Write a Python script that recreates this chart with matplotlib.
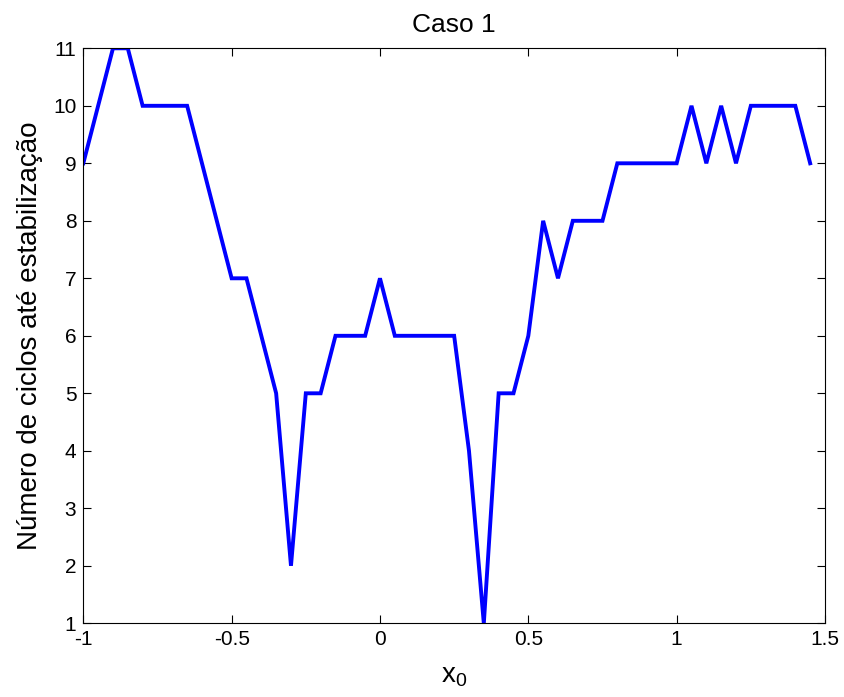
import numpy as np
import matplotlib
matplotlib.use("Agg")
import matplotlib.pyplot as plt

x_start = -1.0
x_step = 0.05
ciclos = [9, 10, 11, 11, 10, 10, 10, 10, 9, 8,
          7, 7, 6, 5, 2, 5, 5, 6, 6, 6,
          7, 6, 6, 6, 6, 6, 4, 1, 5, 5,
          6, 8, 7, 8, 8, 8, 9, 9, 9, 9,
          9, 10, 9, 10, 9, 10, 10, 10, 10, 9]
x0 = [round(x_start + x_step * i, 2) for i in range(len(ciclos))]

xticks = [-1, -0.5, 0, 0.5, 1, 1.5]
xticklabels = ["-1", "-0.5", "0", "0.5", "1", "1.5"]
yticks = list(range(1, 12))

title = "Caso 1"
ylabel = "Número de ciclos até estabilização"

plt.rcParams['font.family'] = ['Liberation Sans', 'DejaVu Sans']
plt.rcParams['mathtext.fontset'] = 'custom'
plt.rcParams['mathtext.rm'] = 'Liberation Sans'
plt.rcParams['mathtext.it'] = 'Liberation Sans'

fig = plt.figure(figsize=(8.45, 6.97), dpi=100)
ax = fig.add_axes([83.3 / 845, 1 - 623.3 / 697, (825 - 83.3) / 845, (623.3 - 48.3) / 697])

ax.plot(x0, ciclos, color=(0, 0, 1), linewidth=2.8, solid_joinstyle='miter')

ax.set_xlim(-1, 1.5)
ax.set_ylim(1, 11)
ax.set_xticks(xticks)
ax.set_xticklabels(xticklabels)
ax.set_yticks(yticks)
ax.tick_params(direction='in', length=5.8, width=0.8, top=True, right=True,
               labelsize=15, pad=5, colors='black')
for s in ax.spines.values():
    s.set_linewidth(0.8)

ax.set_title(title, fontsize=19, pad=12)
ax.set_xlabel(r"x$_{0}$", fontsize=20, labelpad=10)
ax.set_ylabel(ylabel, fontsize=20, labelpad=7)

fig.savefig("out.png", dpi=100)
